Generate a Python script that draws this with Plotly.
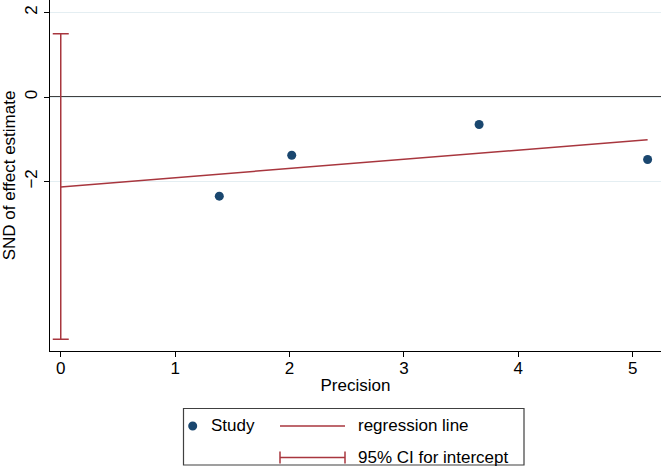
import plotly.graph_objects as go

# ---- data ----
precision = [1.386, 2.019, 3.657, 5.13]
snd = [-2.35, -1.38, -0.65, -1.48]
intercept = -2.13
slope = 0.218
ci_low = -5.74
ci_high = 1.50
y_ticks = [2, 0, -2]
x_ticks = [0, 1, 2, 3, 4, 5]

NAVY = "#1a476f"
MAROON = "#a8363e"
FONT = "Liberation Sans, Arial, Helvetica, sans-serif"

W, H = 661, 468
ML, MR, MT, MB = 50, 0, 0, 117
PW, PH = W - ML - MR, H - MT - MB


def px(x):
    return (x - ML) / PW


def py(y):
    return (H - MB - y) / PH


fig = go.Figure()

# regression line from x=0 to max precision
x_end = max(precision)
fig.add_trace(go.Scatter(
    x=[0, x_end], y=[intercept, intercept + slope * x_end],
    mode="lines", line=dict(color=MAROON, width=1.5),
    showlegend=False, hoverinfo="skip"))

# 95% CI for intercept
fig.add_trace(go.Scatter(
    x=[0], y=[intercept], mode="markers",
    marker=dict(size=1, color="rgba(0,0,0,0)"),
    error_y=dict(type="data", symmetric=False,
                 array=[ci_high - intercept], arrayminus=[intercept - ci_low],
                 width=8, thickness=1.5, color=MAROON),
    showlegend=False, hoverinfo="skip"))

# studies
fig.add_trace(go.Scatter(
    x=precision, y=snd, mode="markers",
    marker=dict(size=9, color=NAVY),
    showlegend=False))

shapes = [
    # zero reference line
    dict(type="line", xref="paper", yref="y", x0=0, x1=1, y0=0, y1=0,
         line=dict(color="black", width=1.5), layer="below"),
]

# manual legend
bx0, bx1, by0, by1 = 183.5, 524, 408.5, 465
shapes.append(dict(type="rect", xref="paper", yref="paper",
                   x0=px(bx0), x1=px(bx1), y0=py(by1), y1=py(by0),
                   line=dict(color="#404040", width=1.2), fillcolor="white"))
r1, r2 = 426, 457.5
mx, mr = 192.7, 4.5
shapes.append(dict(type="circle", xref="paper", yref="paper",
                   x0=px(mx - mr), x1=px(mx + mr), y0=py(r1 + mr), y1=py(r1 - mr),
                   line=dict(color=NAVY, width=0), fillcolor=NAVY))
lx0, lx1 = 280, 345
shapes.append(dict(type="line", xref="paper", yref="paper",
                   x0=px(lx0), x1=px(lx1), y0=py(r1), y1=py(r1),
                   line=dict(color=MAROON, width=1.5)))
shapes.append(dict(type="line", xref="paper", yref="paper",
                   x0=px(lx0), x1=px(lx1), y0=py(r2), y1=py(r2),
                   line=dict(color=MAROON, width=1.5)))
for cx in (lx0, lx1):
    shapes.append(dict(type="line", xref="paper", yref="paper",
                       x0=px(cx), x1=px(cx), y0=py(r2 - 6), y1=py(r2 + 6),
                       line=dict(color=MAROON, width=1.5)))

annotations = []
for text, x, y in [("Study", 209, r1), ("regression line", 355.5, r1),
                   ("95% CI for intercept", 355.5, r2)]:
    annotations.append(dict(text=text, xref="paper", yref="paper",
                            x=px(x), y=py(y), xanchor="left", yanchor="middle",
                            showarrow=False, font=dict(size=17, color="black", family=FONT)))

fig.update_layout(
    width=W, height=H,
    margin=dict(l=ML, r=MR, t=MT, b=MB),
    paper_bgcolor="white", plot_bgcolor="white",
    font=dict(family=FONT, size=17, color="black"),
    shapes=shapes, annotations=annotations,
    showlegend=False,
    xaxis=dict(range=[-0.094, 5.247], tickvals=x_ticks, ticks="outside",
               ticklen=5, tickcolor="black", showgrid=False, zeroline=False,
               showline=True, linecolor="black", linewidth=1.2,
               ticklabelstandoff=-4,
               title=dict(text="Precision", font=dict(size=17), standoff=2),
               tickfont=dict(size=17)),
    yaxis=dict(range=[-6.02, 2.30], tickvals=y_ticks,
               ticktext=["2", "0", "\u22122"], tickangle=-90,
               ticks="outside", ticklen=5, tickcolor="black",
               showgrid=True, gridcolor="#e4eef2", gridwidth=1, zeroline=False,
               showline=True, linecolor="black", linewidth=1.2,
               title=dict(text="SND of effect estimate", font=dict(size=17), standoff=2),
               tickfont=dict(size=17)),
)

fig.write_html("out.html", config={"displayModeBar": False},
               post_script="document.body.style.margin='0';document.body.style.overflow='hidden';")
